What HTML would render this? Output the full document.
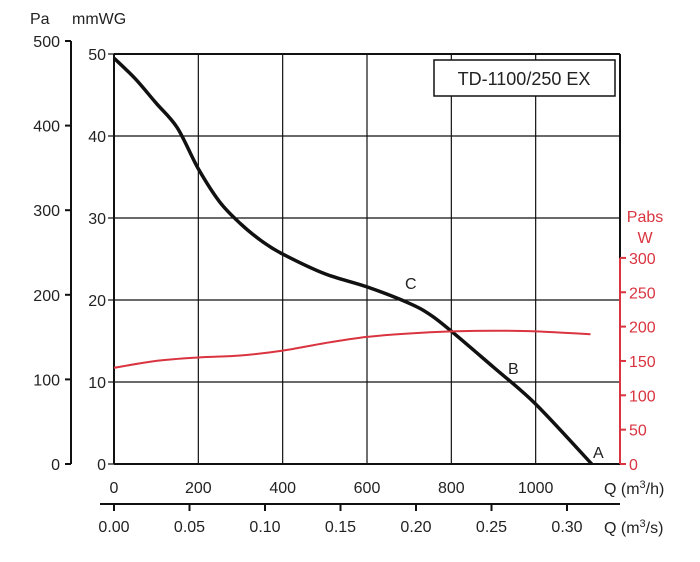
<!DOCTYPE html>
<html><head><meta charset="utf-8"><style>
body{margin:0;background:#fff}
svg{display:block;font-family:"Liberation Sans",Arial,sans-serif}
</style></head><body>
<svg id="c" width="700" height="562"></svg>
<script>
const flowQ=[0,50,100,150,200,250,300,350,400,500,600,700,750,800,900,1000,1133];
const pressMm=[49.5,47,44,41,36,32,29.3,27.2,25.6,23.2,21.6,19.6,18.2,16.2,11.8,7.3,0];
const powerQ=[0,100,200,300,400,500,600,700,800,900,1000,1130];
const powerW=[140,150,155,158,165,176,185,190,193,194,193,189];
const qTicks=[0,200,400,600,800,1000];
const qsTicks=["0.00","0.05","0.10","0.15","0.20","0.25","0.30"];
const paTicks=[0,100,200,300,400,500];
const mmTicks=[0,10,20,30,40,50];
const wTicks=[0,50,100,150,200,250,300];
const NS="http://www.w3.org/2000/svg",svg=document.getElementById('c');
const X=q=>114+q*(506/1200), Ym=m=>464-m*8.2, Yp=p=>464-p*0.846, Yw=w=>464-w*0.687, Xs=s=>114+s*1510;
function el(t,a,txt){const e=document.createElementNS(NS,t);for(const k in a)e.setAttribute(k,a[k]);if(txt!=null)e.textContent=txt;svg.appendChild(e);return e;}
function line(x1,y1,x2,y2,c,w){return el('line',{x1,y1,x2,y2,stroke:c||'#111','stroke-width':w||1.2});}
for(const m of mmTicks){const g=line(114,Ym(m),620,Ym(m),'#111',m==0||m==50?2:1.2);

}
for(const q of [200,400,600,800,1000]){const g=line(X(q),54,X(q),464,'#111',1.2);

}
line(114,54,114,464,'#111',2);
line(620,54,620,258,'#111',2);
line(620,258,620,464,'#d9343f',2);
for(const m of mmTicks){line(108,Ym(m),114,Ym(m));const t=el('text',{x:106,y:Ym(m)+6,'text-anchor':'end','font-size':16,fill:'#222'},m);

}
line(71,41,71,464,'#111',2);
for(const p of paTicks){line(65,Yp(p),71,Yp(p),'#111',2);const t=el('text',{x:60,y:Yp(p)+6,'text-anchor':'end','font-size':16,fill:'#222'},p);

}
for(const w of wTicks){line(620,Yw(w),626,Yw(w),'#d9343f',2);const t=el('text',{x:629,y:Yw(w)+6,'font-size':16,fill:'#d9343f'},w);

}
for(const q of qTicks){const t=el('text',{x:X(q),y:493,'text-anchor':'middle','font-size':16,fill:'#222'},q);

}
line(100,504,620,504,'#111',2);
qsTicks.forEach(s=>{const x=Xs(+s);line(x,504,x,511,'#111',2);const t=el('text',{x:x,y:532,'text-anchor':'middle','font-size':16,fill:'#222'},s);

});
const tt=[['Pa',30,24,'#222','start'],['mmWG',72,24,'#222','start'],['Pabs',645,222,'#d9343f','middle'],['W',645,243,'#d9343f','middle']];
for(const a of tt){const t=el('text',{x:a[1],y:a[2],'font-size':16,fill:a[3],'text-anchor':a[4]},a[0]);

}
const q1=el('text',{x:604,y:494,'font-size':16,fill:'#222'});q1.innerHTML='Q (m<tspan dy="-6" font-size="11">3</tspan><tspan dy="6">/h)</tspan>';


const q2=el('text',{x:604,y:533,'font-size':16,fill:'#222'});q2.innerHTML='Q (m<tspan dy="-6" font-size="11">3</tspan><tspan dy="6">/s)</tspan>';


function smooth(xs,ys,fx,fy){const p=xs.map((v,i)=>[fx(v),fy(ys[i])]);let d='M'+p[0][0].toFixed(1)+' '+p[0][1].toFixed(1);
for(let i=0;i<p.length-1;i++){const p0=p[i-1]||p[i],p1=p[i],p2=p[i+1],p3=p[i+2]||p2;
const c1=[p1[0]+(p2[0]-p0[0])/6,p1[1]+(p2[1]-p0[1])/6],c2=[p2[0]-(p3[0]-p1[0])/6,p2[1]-(p3[1]-p1[1])/6];
d+='C'+c1.map(v=>v.toFixed(1)).join(' ')+' '+c2.map(v=>v.toFixed(1)).join(' ')+' '+p2[0].toFixed(1)+' '+p2[1].toFixed(1);}return d;}
const pc=el('path',{d:smooth(flowQ,pressMm,X,Ym),fill:'none',stroke:'#111','stroke-width':3.5,'stroke-linejoin':'round'});


const wc=el('path',{d:smooth(powerQ,powerW,X,Yw),fill:'none',stroke:'#d9343f','stroke-width':2,'stroke-linejoin':'round'});


for(const a of [['C',405,289],['B',508,374],['A',593,458]]){const t=el('text',{x:a[1],y:a[2],'font-size':16,fill:'#222'},a[0]);

}
const r=el('rect',{x:434,y:60,width:181,height:36,fill:'#fff',stroke:'#111','stroke-width':1.5});


const tl=el('text',{x:524,y:85,'text-anchor':'middle','font-size':18,fill:'#222'},'TD-1100/250 EX');


</script>
</body></html>
